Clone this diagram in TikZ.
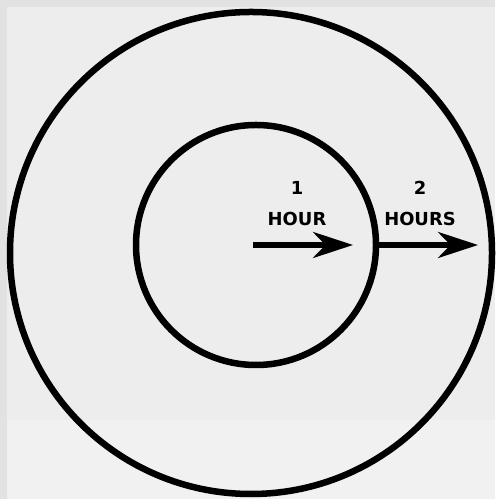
\documentclass[tikz,border=0pt]{standalone}
\usepackage{fontspec}
\setmainfont{DejaVu Sans}
\usetikzlibrary{arrows.meta}
\definecolor{paperedge}{HTML}{E2E2E2}
\definecolor{paper}{HTML}{EDEDED}
\definecolor{paperlight}{HTML}{F1F1F1}
\tikzset{
  ring/.style={line width=3.7pt},
  timearrow/.style={line width=3pt,-{Stealth[length=0.8cm,width=0.52cm,inset=0.25cm]}},
  lbl/.style={font=\fontsize{10.2}{12}\selectfont\bfseries,inner sep=0pt}
}

\begin{document}
\begin{tikzpicture}[x=0.02cm,y=0.02cm]
        % Фон
        \fill[paperedge] (0,0) rectangle (495,499);
        \fill[paper] (7,0) rectangle (495,492);
        \fill[paperlight] (7,0) rectangle (495,79);
        \useasboundingbox (0,0) rectangle (495,499);

        \coordinate (O) at (251,246);
        \coordinate (I) at (256,254);

        \coordinate (A) at (253,254);
        \coordinate (B) at (353,254);
        \coordinate (C) at (376,254);
        \coordinate (D) at (478,254);

        \draw[ring] (O) circle (241);
        \draw[ring] (I) circle (120);

        \draw[timearrow] (A) -- (B);
        \draw[timearrow] (C) -- (D);

        \node[lbl] (one) at (297,311) {1};
        \node[lbl] (hour) at (297,280) {HOUR};
        \node[lbl] (two) at (420,311) {2};
        \node[lbl] (hours) at (420,280) {HOURS};
    \end{tikzpicture}
\end{document}
